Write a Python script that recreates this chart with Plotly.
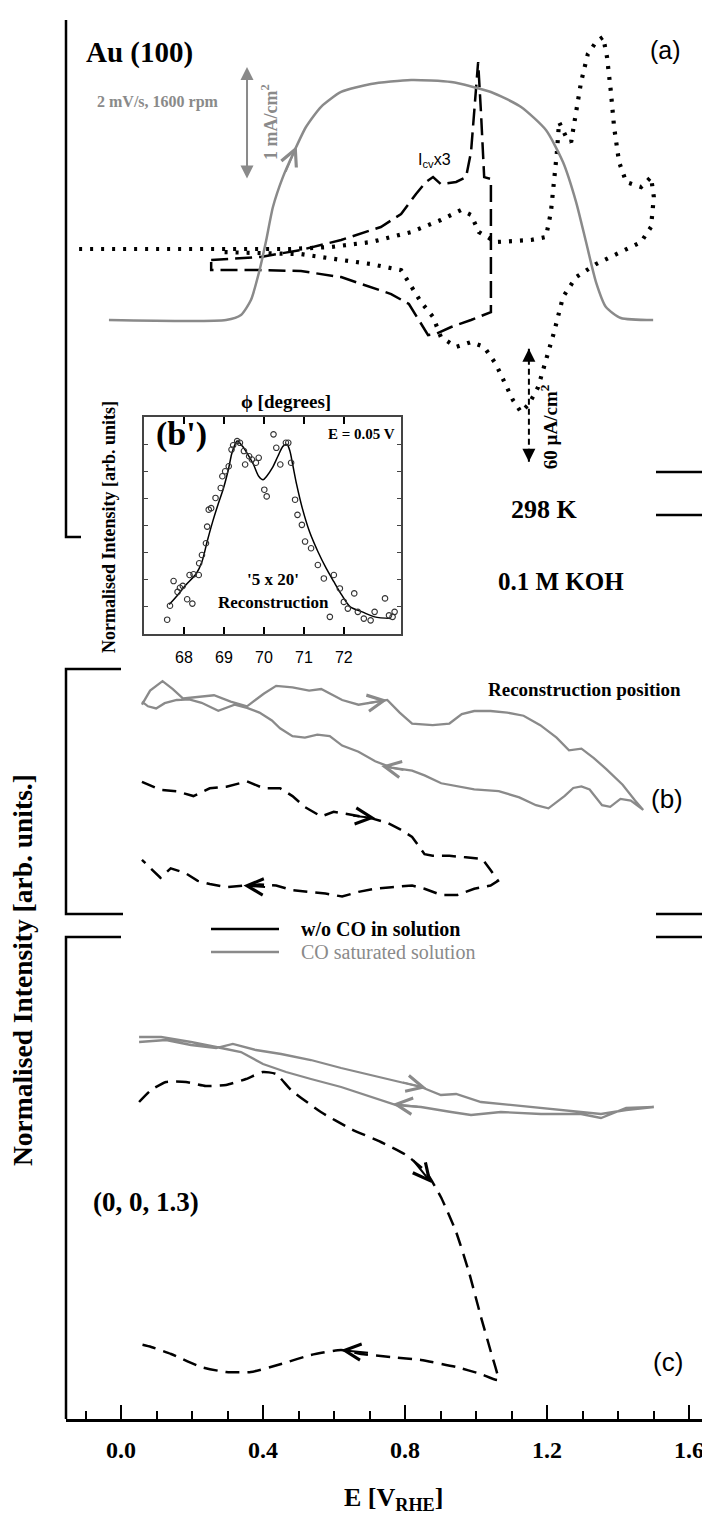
import plotly.graph_objects as go

# ---------------- data ----------------
# Panel (a): ring current (mA/cm^2) vs E (V_RHE), grey solid
ring_E = [-0.034, 0.296, 0.338, 0.366, 0.389, 0.408, 0.428, 0.456, 0.487, 0.521, 0.563, 0.620,
          0.704, 0.817, 0.930, 1.042, 1.127, 1.197, 1.245, 1.282, 1.310, 1.338, 1.366, 1.408,
          1.499]
ring_i = [0.0, 0.0, 0.044, 0.177, 0.425, 0.690, 1.000, 1.265, 1.487, 1.708, 1.885, 2.018,
          2.088, 2.124, 2.106, 2.018, 1.885, 1.681, 1.398, 1.044, 0.690, 0.336, 0.115, 0.018,
          0.0]

# Panel (a): CV in CO saturated solution (uA/cm^2), dotted
cv_E = [-0.118, 0.085, 0.282, 0.479, 0.592, 0.704, 0.817, 0.901, 0.958, 0.986, 1.008, 1.056,
        1.155, 1.197, 1.211, 1.220, 1.228, 1.234, 1.254, 1.268, 1.282, 1.296, 1.315, 1.338,
        1.358, 1.369, 1.380, 1.389, 1.403, 1.423, 1.465, 1.493, 1.501, 1.493,
        1.465, 1.408, 1.338, 1.282, 1.245, 1.220, 1.197, 1.175, 1.149, 1.127, 1.104, 1.079,
        1.056, 1.023, 0.986, 0.944, 0.901, 0.879, 0.845, 0.789, 0.704, 0.620, 0.507, 0.282]
cv_j = [0.0, 0.0, -0.5, 0.0, 1.1, 3.7, 9.0, 15.4, 20.7, 18.1, 9.0, 3.7,
        4.8, 6.4, 19.6, 35.6, 51.5, 67.4, 59.5, 56.8, 72.7, 88.7, 103.5, 109.9,
        112.6, 102.0, 83.4, 64.7, 46.2, 35.6, 32.9, 38.2, 27.6, 11.7,
        3.7, -1.6, -8.0, -14.9, -25.5, -44.1, -60.0, -73.3, -82.3, -86.6, -80.2, -70.6,
        -61.1, -52.0, -49.4, -52.0, -46.7, -36.1, -28.1, -11.2, -8.0, -5.8, -2.7, -1.6]

# Panel (a): CV without CO, x3 (uA/cm^2), dashed
cv3_E = [0.254, 0.394, 0.507, 0.620, 0.732, 0.789, 0.831, 0.859, 0.879, 0.901, 0.944, 0.972,
         0.986, 0.997, 1.006, 1.014, 1.023, 1.042, 1.042, 0.986, 0.930, 0.887, 0.865, 0.839,
         0.811, 0.761, 0.704, 0.620, 0.507, 0.394, 0.254, 0.254]
cv3_j = [-5.8, -4.2, -0.5, 4.8, 11.7, 18.6, 29.2, 35.6, 38.2, 34.5, 35.6, 38.2,
         51.5, 78.1, 99.3, 72.7, 38.2, 37.2, -33.5, -37.7, -41.4, -45.1, -45.7, -37.7,
         -29.2, -23.9, -20.2, -14.9, -11.7, -11.2, -11.2, -6.9]

# Inset (b'): rocking scan, phi (degrees) vs normalised intensity
fit_phi = [67.63, 67.84, 68.04, 68.31, 68.45, 68.58, 68.72, 68.85, 68.99, 69.12, 69.19, 69.26,
           69.33, 69.46, 69.60, 69.74, 69.87, 69.98, 70.07, 70.21, 70.35, 70.48, 70.58, 70.65,
           70.72, 70.82, 70.96, 71.14, 71.35, 71.56, 71.75, 71.95, 72.16, 72.46, 72.77, 73.18]
fit_I = [0.136, 0.179, 0.225, 0.279, 0.333, 0.426, 0.519, 0.596, 0.673, 0.765, 0.827, 0.866,
         0.889, 0.866, 0.827, 0.781, 0.727, 0.711, 0.727, 0.765, 0.819, 0.866, 0.873, 0.843,
         0.781, 0.688, 0.580, 0.472, 0.380, 0.302, 0.241, 0.179, 0.125, 0.102, 0.079, 0.071]
pts_phi = [67.58, 67.65, 67.74, 67.84, 67.90, 67.97, 68.08, 68.21, 68.14, 68.24, 68.37, 68.38,
           68.45, 68.55, 68.58, 68.62, 68.68, 68.79, 68.92, 68.96, 69.03, 69.12, 69.19, 69.23,
           69.33, 69.40, 69.50, 69.53, 69.63, 69.70, 69.80, 69.87, 70.01, 70.07, 70.24, 70.31,
           70.41, 70.55, 70.61, 70.68, 70.78, 70.84, 70.95, 71.03, 71.18, 71.35, 71.50, 71.65,
           71.75, 71.90, 72.00, 72.10, 72.26, 72.35, 72.50, 72.67, 72.77, 73.03, 73.13, 73.22,
           73.27]
pts_I = [0.066, 0.130, 0.244, 0.194, 0.213, 0.222, 0.160, 0.140, 0.272, 0.275, 0.272, 0.326,
         0.364, 0.418, 0.495, 0.573, 0.580, 0.627, 0.673, 0.727, 0.750, 0.773, 0.850, 0.870,
         0.889, 0.881, 0.843, 0.781, 0.819, 0.804, 0.789, 0.812, 0.665, 0.634, 0.920, 0.858,
         0.781, 0.881, 0.881, 0.789, 0.619, 0.549, 0.503, 0.426, 0.395, 0.318, 0.256, 0.079,
         0.272, 0.210, 0.148, 0.117, 0.187, 0.102, 0.071, 0.063, 0.102, 0.164, 0.086, 0.079,
         0.102]

# Panel (b): reconstruction position intensity vs E
b_co_E = [0.059, 0.082, 0.117, 0.146, 0.175, 0.216, 0.262, 0.309, 0.355, 0.402, 0.437, 0.483,
          0.530, 0.564, 0.623, 0.669, 0.716, 0.750, 0.785, 0.820, 0.878, 0.925, 0.960, 0.995,
          1.041, 1.088, 1.134, 1.181, 1.227, 1.262, 1.297, 1.332, 1.367, 1.413, 1.448, 1.471,
          1.436, 1.407, 1.378, 1.355, 1.320, 1.297, 1.274, 1.250, 1.204, 1.169, 1.122, 1.064,
          0.995, 0.902, 0.855, 0.820, 0.762, 0.716, 0.669, 0.623, 0.588, 0.553, 0.518, 0.483,
          0.448, 0.425, 0.390, 0.355, 0.320, 0.274, 0.227, 0.192, 0.157, 0.123, 0.099, 0.076,
          0.059]
b_co_I = [2.917, 3.067, 3.167, 3.083, 2.983, 3.000, 3.017, 2.950, 2.900, 3.033, 3.117, 3.100,
          3.067, 3.083, 2.967, 2.917, 2.950, 2.967, 2.833, 2.717, 2.700, 2.717, 2.817, 2.850,
          2.850, 2.833, 2.800, 2.700, 2.567, 2.433, 2.450, 2.350, 2.233, 2.067, 1.900, 1.800,
          1.900, 1.917, 1.833, 1.850, 2.017, 2.050, 2.033, 1.950, 1.817, 1.850, 1.933, 2.000,
          2.017, 2.083, 2.167, 2.217, 2.250, 2.317, 2.417, 2.483, 2.583, 2.600, 2.567, 2.583,
          2.667, 2.750, 2.833, 2.883, 2.917, 2.853, 2.937, 2.973, 2.967, 2.933, 2.877, 2.900,
          2.950]
b_no_E = [0.059, 0.111, 0.157, 0.204, 0.250, 0.297, 0.355, 0.402, 0.448, 0.483, 0.518, 0.564,
          0.599, 0.646, 0.704, 0.750, 0.785, 0.820, 0.855, 0.878, 0.925, 0.971, 1.018, 1.041,
          1.062, 1.041, 0.995, 0.948, 0.902, 0.855, 0.820, 0.762, 0.716, 0.669, 0.623, 0.576,
          0.530, 0.483, 0.437, 0.390, 0.344, 0.297, 0.250, 0.216, 0.181, 0.140, 0.111, 0.059]
b_no_I = [2.097, 2.013, 1.997, 1.947, 2.030, 2.047, 2.103, 2.030, 2.030, 1.947, 1.830, 1.730,
          1.780, 1.747, 1.713, 1.663, 1.597, 1.513, 1.330, 1.313, 1.313, 1.297, 1.280, 1.163,
          1.047, 0.997, 0.963, 0.897, 0.897, 0.963, 0.997, 0.980, 0.963, 0.930, 0.880, 0.913,
          0.930, 0.947, 0.997, 1.007, 0.997, 0.980, 1.013, 1.047, 1.130, 1.180, 1.080, 1.270]

# Panel (c): (0, 0, 1.3) intensity vs E
c_co_E = [0.051, 0.127, 0.197, 0.268, 0.315, 0.380, 0.451, 0.535, 0.620, 0.704, 0.789, 0.845,
          0.901, 0.944, 1.014, 1.127, 1.239, 1.352, 1.423, 1.501,
          1.423, 1.352, 1.296, 1.183, 1.070, 0.986, 0.930, 0.845, 0.775, 0.704, 0.620, 0.535,
          0.465, 0.400, 0.338, 0.282, 0.197, 0.113, 0.051]
c_co_I = [3.77, 3.79, 3.74, 3.71, 3.75, 3.69, 3.65, 3.59, 3.51, 3.44, 3.37, 3.32,
          3.24, 3.25, 3.17, 3.13, 3.09, 3.05, 3.09, 3.12,
          3.11, 3.01, 3.05, 3.05, 3.07, 3.04, 3.07, 3.12, 3.14, 3.22, 3.32, 3.40,
          3.47, 3.55, 3.67, 3.71, 3.77, 3.82, 3.82]
c_no_E = [0.051, 0.085, 0.127, 0.183, 0.239, 0.296, 0.352, 0.400, 0.437, 0.479, 0.563, 0.648,
          0.732, 0.803, 0.859, 0.901, 0.944, 0.980, 1.014, 1.042, 1.062,
          1.014, 0.944, 0.845, 0.761, 0.676, 0.620, 0.535, 0.451, 0.366, 0.296, 0.225, 0.141,
          0.085, 0.051]
c_no_I = [3.17, 3.29, 3.37, 3.37, 3.33, 3.34, 3.40, 3.47, 3.45, 3.29, 3.07, 2.90,
          2.77, 2.64, 2.47, 2.22, 1.87, 1.47, 1.02, 0.67, 0.39,
          0.45, 0.52, 0.59, 0.62, 0.65, 0.69, 0.64, 0.55, 0.47, 0.47, 0.52, 0.65,
          0.72, 0.75]

# tick labels
e_ticks = [0.0, 0.4, 0.8, 1.2, 1.6]
e_ticktext = ["0.0", "0.4", "0.8", "1.2", "1.6"]
e_top_ticks = [0.0, 0.2, 0.4, 0.6, 0.8, 1.0, 1.2, 1.4, 1.6]
phi_ticks = [68, 69, 70, 71, 72]

# scale bars
ring_bar = (1.239, 2.239)           # 1 mA/cm^2
cv_bar_top, cv_bar = -53.0, 60.0     # 60 uA/cm^2

# ---------------- styling / layout ----------------
GREY = "#8a8a8a"
SERIF = "Liberation Serif"
SANS = "Liberation Sans"
W, H = 710, 1519
ML, MR, MT, MB = 58, 4, 12, 108
PW, PH = W - ML - MR, H - MT - MB


def px(x):   # picture x -> paper
    return (x - 7 - ML) / PW


def py(y):   # picture y -> paper
    return (H - MB - (y - 6)) / PH


fig = go.Figure()

# panel (a)
fig.add_trace(go.Scatter(x=ring_E, y=ring_i, xaxis="x", yaxis="y4", mode="lines",
                         line=dict(color=GREY, width=2.5, shape="spline", smoothing=0.6)))
fig.add_trace(go.Scatter(x=cv_E, y=cv_j, xaxis="x", yaxis="y3", mode="lines",
                         line=dict(color="black", width=4.2, dash="3px,8px")))
fig.add_trace(go.Scatter(x=cv3_E, y=cv3_j, xaxis="x", yaxis="y3", mode="lines",
                         line=dict(color="black", width=2.5, dash="17px,7px")))
E_BAR = 1.149
fig.add_trace(go.Scatter(x=[E_BAR, E_BAR], y=[cv_bar_top, cv_bar_top - cv_bar],
                         xaxis="x", yaxis="y3", mode="lines",
                         line=dict(color="black", width=2, dash="6px,4px")))

# inset
fig.add_trace(go.Scatter(x=fit_phi, y=fit_I, xaxis="x2", yaxis="y5", mode="lines",
                         line=dict(color="black", width=1.5, shape="spline", smoothing=0.8)))
fig.add_trace(go.Scatter(x=pts_phi, y=pts_I, xaxis="x2", yaxis="y5", mode="markers",
                         marker=dict(symbol="circle-open", size=5.5, color="#333",
                                     line=dict(width=1.1))))

# panel (b)
fig.add_trace(go.Scatter(x=b_co_E, y=b_co_I, xaxis="x", yaxis="y2", mode="lines",
                         line=dict(color=GREY, width=2.3)))
fig.add_trace(go.Scatter(x=b_no_E, y=b_no_I, xaxis="x", yaxis="y2", mode="lines",
                         line=dict(color="black", width=2.5, dash="14px,8px")))

# panel (c)
fig.add_trace(go.Scatter(x=c_co_E, y=c_co_I, xaxis="x", yaxis="y", mode="lines",
                         line=dict(color=GREY, width=2.3)))
fig.add_trace(go.Scatter(x=c_no_E, y=c_no_I, xaxis="x", yaxis="y", mode="lines",
                         line=dict(color="black", width=2.5, dash="14px,8px",
                                   shape="spline", smoothing=0.5)))

x_range = [(ML - 113) / 355, (W - MR - 113) / 355]

hidden = dict(visible=False, showgrid=False, zeroline=False)
fig.update_layout(
    width=W, height=H, margin=dict(l=ML, r=MR, t=MT, b=MB),
    paper_bgcolor="white", plot_bgcolor="rgba(0,0,0,0)", showlegend=False,
    xaxis=dict(domain=[0, 1], range=x_range, anchor="y", showline=True, linecolor="black",
               linewidth=2.5, ticks="inside", tickvals=e_ticks, ticktext=e_ticktext,
               ticklen=14, tickwidth=2, tickcolor="black",
               minor=dict(tickmode="linear", tick0=0, dtick=0.1, ticks="inside", ticklen=8,
                          tickwidth=2, tickcolor="black"),
               tickfont=dict(family=SERIF, size=24, color="black", weight="bold"),
               ticklabelstandoff=7, showgrid=False, zeroline=False),
    xaxis3=dict(overlaying="x", anchor="y3", side="top", range=x_range, showline=True,
                linecolor="black", linewidth=2.5, ticks="inside", tickvals=e_top_ticks,
                ticklen=12, tickwidth=2, tickcolor="black",
                minor=dict(tickmode="linear", tick0=0, dtick=0.1, ticks="inside", ticklen=7,
                           tickwidth=2, tickcolor="black"),
                showticklabels=False, showgrid=False, zeroline=False),
    yaxis=dict(domain=[0, py(935)], range=[0, 4.82], **hidden),
    yaxis2=dict(domain=[py(912), py(667)], range=[0.695, 3.296], anchor="x", **hidden),
    yaxis3=dict(domain=[py(535), 1.0], range=[-152.9, 121.6], anchor="x", **hidden),
    yaxis4=dict(overlaying="y3", range=[-1.920, 2.655], anchor="x", **hidden),
    xaxis2=dict(domain=[px(143), px(400)], anchor="y5", range=[67.0, 73.43], showline=True,
                mirror="ticks", linecolor="#444", linewidth=1.5, ticks="inside",
                tickvals=phi_ticks, ticklen=7, tickwidth=2, tickcolor="black",
                tickfont=dict(family=SANS, size=16, color="black"), ticklabelstandoff=8,
                showgrid=False, zeroline=False),
    yaxis5=dict(domain=[py(632), py(415)], anchor="x2", range=[0, 1], showline=True,
                mirror="ticks", linecolor="#444", linewidth=1.5, ticks="inside", dtick=0.125,
                ticklen=4, tickwidth=1, tickcolor="#444", showticklabels=False,
                showgrid=False, zeroline=False),
)

# brackets (panel frames), picture coordinates; "L"/"R" = left/right frame edge
def path(points):
    out = []
    for a, b in points:
        xa = 1.0 if a == "R" else (0.0 if a == "L" else px(a))
        out.append(f"{xa:.5f},{py(b):.5f}")
    return "M " + " L ".join(out)


for pts in [
    [("L", 18), ("L", 535), (80, 535)],
    [("R", 18), ("R", 470), (655, 470)],
    [(120, 667), ("L", 667), ("L", 912), (122, 912)],
    [(655, 513), ("R", 513), ("R", 912), (655, 912)],
    [(120, 935), ("L", 935), ("L", 1417)],
    [(655, 935), ("R", 935), ("R", 1417)],
]:
    fig.add_shape(type="path", path=path(pts), xref="paper", yref="paper",
                  line=dict(color="black", width=2.5))

# legend line samples
fig.add_shape(type="line", xref="paper", yref="paper", x0=px(210), x1=px(278),
              y0=py(927), y1=py(927), line=dict(color="black", width=2.5))
fig.add_shape(type="line", xref="paper", yref="paper", x0=px(210), x1=px(278),
              y0=py(950), y1=py(950), line=dict(color=GREY, width=2.5))


def label(text, x, y, size, family=SERIF, color="black", bold=True, angle=0,
          xanchor="center"):
    fig.add_annotation(text=text, x=px(x), y=py(y), xref="paper", yref="paper",
                       showarrow=False,
                       font=dict(family=family, size=size, color=color,
                                 weight="bold" if bold else "normal"),
                       textangle=angle, xanchor=xanchor, yanchor="middle")


label("Au (100)", 138, 50, 29)
label("(a)", 664, 48, 25, family=SANS, bold=False)
label("2 mV/s, 1600 rpm", 157, 100, 16, color=GREY)
label("298 K", 543, 507, 26)
label("0.1 M KOH", 560, 580, 25)
label("Reconstruction position", 682, 688, 19, xanchor="right")
label("(b)", 666, 797, 26, family=SANS, bold=False)
label("w/o CO in solution", 298, 927, 20, xanchor="left")
label("CO saturated solution", 298, 950, 20, color=GREY, bold=False, xanchor="left")
label("(0, 0, 1.3)", 145, 1200, 27)
label("(c)", 667, 1360, 26, family=SANS, bold=False)
label("Normalised Intensity [arb. units.]", 22, 968, 27.5, angle=-90)
label("E [V<sub>RHE</sub>]", 392, 1497, 26)
# inset labels
label("(b')", 180, 432, 34)
label("E = 0.05 V", 360, 432, 15)
label("\u03d5 [degrees]", 285, 400, 19)
label("'5 x 20'", 272, 577, 17)
label("Reconstruction", 272, 600, 17)
label("Normalised Intensity [arb. units]", 108, 525, 18, angle=-90)

# data-anchored labels in panel (a)
fig.add_annotation(text="1 mA/cm<sup>2</sup>", x=0.417, y=1.752, xref="x", yref="y4",
                   showarrow=False, textangle=-90,
                   font=dict(family=SERIF, size=18, color=GREY, weight="bold"))
fig.add_annotation(text="I<sub>cv</sub>x3", x=0.882, y=47.0, xref="x", yref="y3",
                   showarrow=False, font=dict(family=SANS, size=16, color="black"))
fig.add_annotation(text="60 \u00b5A/cm<sup>2</sup>", x=1.206, y=-94.5, xref="x", yref="y3",
                   showarrow=False, textangle=-90,
                   font=dict(family=SERIF, size=19, color="black", weight="bold"))

# scale-bar arrows
fig.add_annotation(x=0.355, y=ring_bar[1], ax=0.355, ay=ring_bar[0], xref="x", yref="y4",
                   axref="x", ayref="y4", text="", showarrow=True, arrowhead=2,
                   arrowside="end+start", arrowsize=1.3, arrowwidth=2, arrowcolor=GREY)
for tip, tail in [(cv_bar_top, cv_bar_top - 6), (cv_bar_top - cv_bar, cv_bar_top - cv_bar + 6)]:
    fig.add_annotation(x=E_BAR, y=tip, ax=E_BAR, ay=tail, xref="x", yref="y3", axref="x",
                       ayref="y3", text="", showarrow=True, arrowhead=2, arrowsize=1.3,
                       arrowwidth=2, arrowcolor="black")

# direction chevrons on the curves: (x_head, y_head, x_tail, y_tail, yaxis, colour)
chevrons = [
    (0.495, 1.54, 0.462, 1.30, "y4", GREY),
    (0.750, 2.967, 0.69, 2.93, "y2", GREY),
    (0.733, 2.267, 0.80, 2.22, "y2", GREY),
    (0.716, 1.713, 0.65, 1.74, "y2", "black"),
    (0.345, 0.997, 0.41, 0.98, "y2", "black"),
    (0.860, 3.31, 0.79, 3.37, "y", GREY),
    (0.765, 3.15, 0.84, 3.12, "y", GREY),
    (0.875, 2.36, 0.82, 2.60, "y", "black"),
    (0.620, 0.69, 0.70, 0.66, "y", "black"),
]
for xh, yh, xt, yt, ya, col in chevrons:
    fig.add_annotation(x=xh, y=yh, ax=xt, ay=yt, xref="x", yref=ya, axref="x", ayref=ya,
                       text="", showarrow=True, arrowhead=5, arrowsize=1.6, arrowwidth=2,
                       arrowcolor=col)

fig.write_html("out.html")
